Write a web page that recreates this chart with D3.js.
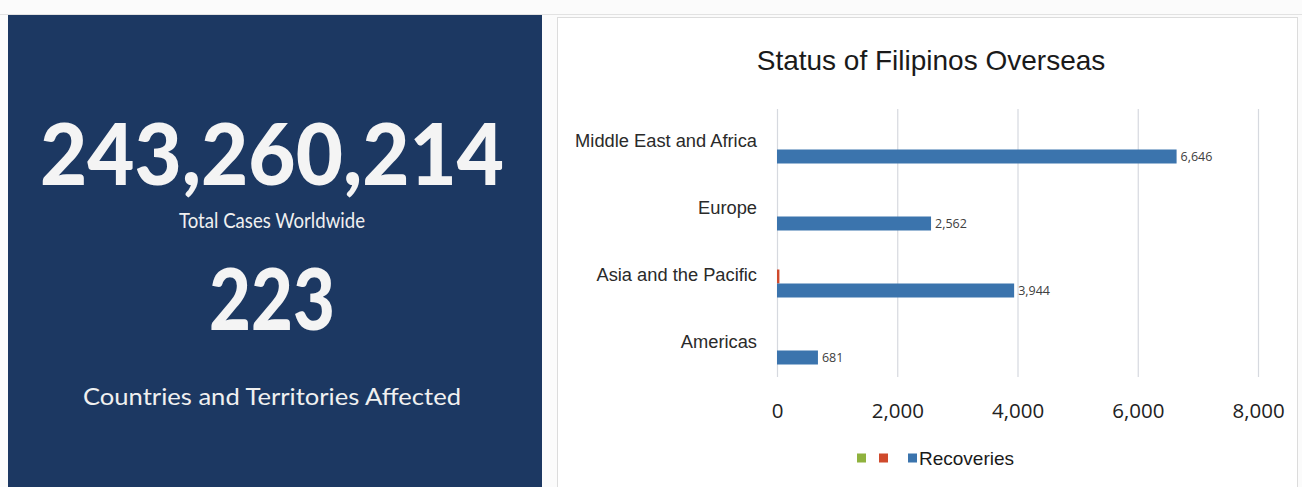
<!DOCTYPE html>
<html><head><meta charset="utf-8">
<script src="https://cdn.jsdelivr.net/npm/d3@7"></script>
<style>html,body{margin:0;padding:0;background:#fafafa;}svg{display:block;}</style>
</head><body>
<script>
// ---- data ----
const categories = ["Middle East and Africa", "Europe", "Asia and the Pacific", "Americas"];
const seriesNames = ["", "", "Recoveries"];
const seriesGreen = [0, 0, 0, 0];
const seriesRed = [0, 0, 40, 0];
const recoveries = [6646, 2562, 3944, 681];
const xTicks = [0, 2000, 4000, 6000, 8000];
const totalCases = "243,260,214";
const totalCasesLabel = "Total Cases Worldwide";
const countries = "223";
const countriesLabel = "Countries and Territories Affected";
const chartTitle = "Status of Filipinos Overseas";

const seriesValues = [seriesGreen, seriesRed, recoveries];
const seriesColors = ["#8fb23e", "#cf4a2c", "#3b74ad"];

const W = 1302, H = 487;
const svg = d3.select("body").append("svg").attr("width", W).attr("height", H);

// page background + frames
svg.append("rect").attr("x",0).attr("y",0).attr("width",W).attr("height",H).attr("fill","#fbfbfb");
svg.append("line").attr("x1",0).attr("x2",W).attr("y1",14.5).attr("y2",14.5).attr("stroke","#e2e2e2");
svg.append("rect").attr("x",8).attr("y",15).attr("width",534).attr("height",H-15).attr("fill","#1c3862");
svg.append("rect").attr("x",557.5).attr("y",17.5).attr("width",740).attr("height",H).attr("fill","#ffffff").attr("stroke","#dcdcdc");

// left panel text
const cx = 272;
svg.append("text").attr("x",cx).attr("y",185).attr("text-anchor","middle")
  .attr("font-family","Lato").attr("font-weight",900).attr("font-size",86)
  .attr("textLength",464).attr("lengthAdjust","spacingAndGlyphs")
  .attr("fill","#f4f4f4").text(totalCases);
svg.append("text").attr("x",cx).attr("y",228).attr("text-anchor","middle")
  .attr("font-family","Lato").attr("font-size",21)
  .attr("textLength",186).attr("lengthAdjust","spacingAndGlyphs")
  .attr("fill","#f0f0f0").text(totalCasesLabel);
svg.append("text").attr("x",cx).attr("y",330).attr("text-anchor","middle")
  .attr("font-family","Lato").attr("font-weight",900).attr("font-size",86)
  .attr("textLength",126).attr("lengthAdjust","spacingAndGlyphs")
  .attr("fill","#f4f4f4").text(countries);
svg.append("text").attr("x",cx).attr("y",405).attr("text-anchor","middle")
  .attr("font-family","Lato").attr("font-size",23)
  .attr("textLength",378).attr("lengthAdjust","spacingAndGlyphs")
  .attr("fill","#f0f0f0").text(countriesLabel);

// chart
const x = d3.scaleLinear().domain([0, 8000]).range([777, 1258]);
const y = d3.scaleBand().domain(categories).range([109, 377]).paddingInner(0).paddingOuter(0);
const bw = y.bandwidth();
const ys = d3.scaleBand().domain([0,1,2]).range([0, bw]).paddingInner(0).paddingOuter(0.893);

// gridlines
const grid = svg.append("g").attr("transform","translate(0,109)")
  .call(d3.axisTop(x).tickValues(xTicks).tickSize(-268).tickFormat(""));
grid.select(".domain").remove();
grid.selectAll("line").attr("stroke","#d6d9df").attr("stroke-width",1.2);

// x tick labels
const xa = svg.append("g").attr("transform","translate(0,377)")
  .call(d3.axisBottom(x).tickValues(xTicks).tickSize(0).tickPadding(26).tickFormat(d3.format(",")));
xa.select(".domain").remove();
xa.selectAll("text").attr("font-family","'Open Sans'").attr("font-size",20.5).attr("fill","#222");

// category labels
const ya = svg.append("g").attr("transform","translate(777,-1)")
  .call(d3.axisLeft(y).tickSize(0).tickPadding(20));
ya.select(".domain").remove();
ya.selectAll("text").attr("font-family","'Liberation Sans'").attr("font-size",18.3)
  .attr("fill","#2a2a2a");

// bars
seriesValues.forEach((vals, si) => {
  svg.append("g").selectAll("rect").data(vals).join("rect")
    .attr("x", x(0))
    .attr("y", (d,i) => y(categories[i]) + ys(si))
    .attr("width", d => x(d) - x(0))
    .attr("height", ys.bandwidth())
    .attr("fill", seriesColors[si]);
});

// data labels (recoveries)
svg.append("g").selectAll("text").data(recoveries).join("text")
  .attr("x", d => x(d) + 4)
  .attr("y", (d,i) => y(categories[i]) + ys(2) + ys.bandwidth()/2 + 4.5)
  .attr("font-family","'Open Sans'").attr("font-size",12.5).attr("fill","#404040")
  .text(d => d3.format(",")(d));

// title
svg.append("text").attr("x",931).attr("y",70).attr("text-anchor","middle")
  .attr("font-family","'Liberation Sans'").attr("font-size",28).attr("fill","#1a1a1a")
  .text(chartTitle);

// legend
const legX = [857, 879, 908];
const lg = svg.append("g");
seriesNames.forEach((n, i) => {
  lg.append("rect").attr("x", legX[i]).attr("y", 453.5).attr("width", 9).attr("height", 9).attr("fill", seriesColors[i]);
  if (n) lg.append("text").attr("x", legX[i] + 11).attr("y", 465)
    .attr("font-family","'Liberation Sans'").attr("font-size",19).attr("fill","#1a1a1a").text(n);
});
</script>
</body></html>
